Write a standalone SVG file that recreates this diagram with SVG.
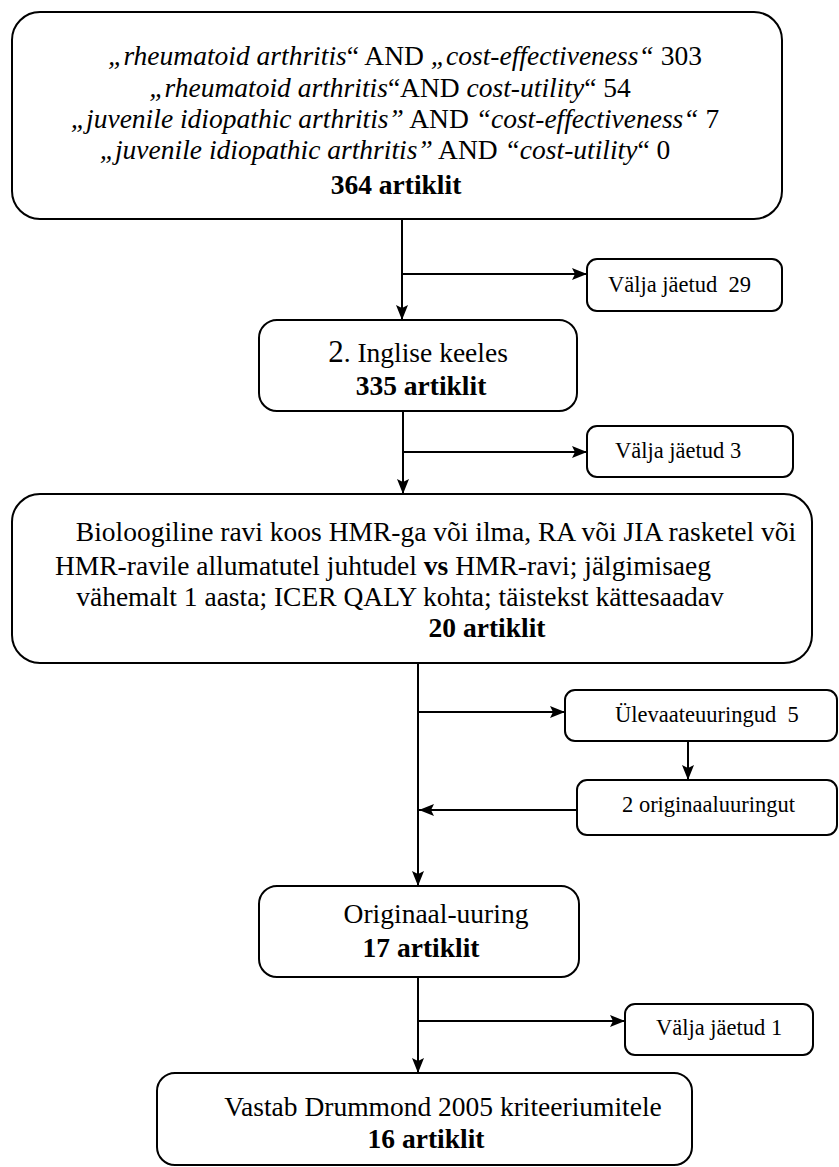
<svg xmlns="http://www.w3.org/2000/svg" width="839" height="1167" viewBox="0 0 839 1167">
<defs>
<marker id="arr" markerWidth="16" markerHeight="12" refX="15" refY="6" orient="auto" markerUnits="userSpaceOnUse">
<path d="M0,0 L15,6 L0,12 L3,6 z" fill="#000"/>
</marker>
<style>
.box{fill:#fff;stroke:#000;stroke-width:2}
.t{font-family:"Liberation Serif","Times New Roman",serif;font-size:27.5px;fill:#000}
.s{font-family:"Liberation Serif","Times New Roman",serif;font-size:22.5px;fill:#000;white-space:pre}
.m{text-anchor:middle}
.b{font-weight:bold}
.i{font-style:italic}
.ln{fill:none;stroke:#000;stroke-width:2}
</style>
</defs>
<rect width="839" height="1167" fill="#fff"/>
<g id="connectors">
<line class="ln" x1="402" y1="219" x2="402" y2="320" marker-end="url(#arr)"/>
<line class="ln" x1="402" y1="274" x2="587" y2="274" marker-end="url(#arr)"/>
<line class="ln" x1="403" y1="411" x2="403" y2="494" marker-end="url(#arr)"/>
<line class="ln" x1="403" y1="452" x2="587" y2="452" marker-end="url(#arr)"/>
<line class="ln" x1="418" y1="663" x2="418" y2="886" marker-end="url(#arr)"/>
<line class="ln" x1="418" y1="712" x2="565" y2="712" marker-end="url(#arr)"/>
<line class="ln" x1="688" y1="741" x2="688" y2="780" marker-end="url(#arr)"/>
<line class="ln" x1="577" y1="810" x2="419" y2="810" marker-end="url(#arr)"/>
<line class="ln" x1="418" y1="977" x2="418" y2="1073" marker-end="url(#arr)"/>
<line class="ln" x1="418" y1="1021" x2="625" y2="1021" marker-end="url(#arr)"/>
</g>
<g id="n1">
<rect class="box" x="12" y="12" width="770" height="207" rx="28"/>
<text class="t m" x="405" y="65"><tspan class="i">„rheumatoid arthritis</tspan>“ AND <tspan class="i">„cost-effectiveness“</tspan> 303</text>
<text class="t m" x="390" y="97"><tspan class="i">„rheumatoid arthritis</tspan>“AND <tspan class="i">cost-utility</tspan>“ 54</text>
<text class="t m" x="395" y="128"><tspan class="i">„juvenile idiopathic arthritis”</tspan> AND <tspan class="i">“cost-effectiveness“</tspan> 7</text>
<text class="t m" x="385" y="159"><tspan class="i">„juvenile idiopathic arthritis”</tspan> AND <tspan class="i">“cost-utility</tspan>“ 0</text>
<text class="t m b" x="396" y="194">364 artiklit</text>
</g>
<g id="n2">
<rect class="box" x="587" y="259" width="195" height="52" rx="10"/>
<text class="s" x="608" y="292">Välja jäetud  29</text>
</g>
<g id="n3">
<rect class="box" x="259" y="320" width="318" height="91" rx="18"/>
<text class="t m" x="418" y="362"><tspan font-size="31">2</tspan>. Inglise keeles</text>
<text class="t m b" x="421" y="395">335 artiklit</text>
</g>
<g id="n4">
<rect class="box" x="587" y="426" width="206" height="51" rx="10"/>
<text class="s" x="615" y="458">Välja jäetud 3</text>
</g>
<g id="n5">
<rect class="box" x="12" y="494" width="800" height="169" rx="28"/>
<text class="t m" x="436" y="541">Bioloogiline ravi koos HMR-ga või ilma, RA või JIA rasketel või</text>
<text class="t m" x="383" y="575">HMR-ravile allumatutel juhtudel <tspan class="b">vs</tspan> HMR-ravi; jälgimisaeg</text>
<text class="t m" x="400" y="606">vähemalt 1 aasta; ICER QALY kohta; täistekst kättesaadav</text>
<text class="t m b" x="487" y="637">20 artiklit</text>
</g>
<g id="n6">
<rect class="box" x="565" y="690" width="272" height="51" rx="10"/>
<text class="s" x="615" y="722">Ülevaateuuringud  5</text>
</g>
<g id="n7">
<rect class="box" x="577" y="780" width="260" height="55" rx="10"/>
<text class="s" x="622" y="812">2 originaaluuringut</text>
</g>
<g id="n8">
<rect class="box" x="259" y="886" width="320" height="91" rx="18"/>
<text class="t m" x="436" y="923">Originaal-uuring</text>
<text class="t m b" x="421" y="957">17 artiklit</text>
</g>
<g id="n9">
<rect class="box" x="625" y="1004" width="188" height="51" rx="10"/>
<text class="s" x="656" y="1035">Välja jäetud 1</text>
</g>
<g id="n10">
<rect class="box" x="157" y="1073" width="535" height="92" rx="18"/>
<text class="t m" x="443" y="1116">Vastab Drummond 2005 kriteeriumitele</text>
<text class="t m b" x="426" y="1148">16 artiklit</text>
</g>
</svg>
